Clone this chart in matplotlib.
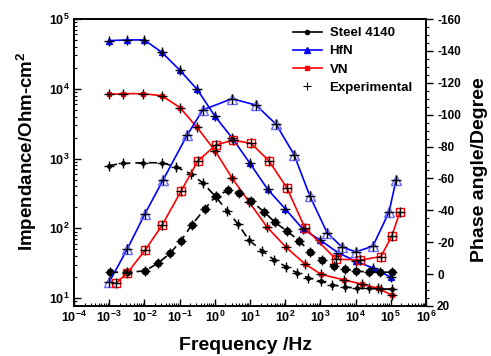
import numpy as np
import matplotlib
matplotlib.use("Agg")
import matplotlib.pyplot as plt
from matplotlib.lines import Line2D
from matplotlib.ticker import FixedLocator, MultipleLocator, LogLocator, FuncFormatter, NullFormatter

plt.rcParams['font.family'] = ['Liberation Sans', 'DejaVu Sans']
plt.rcParams['font.weight'] = 'bold'
plt.rcParams['mathtext.fontset'] = 'custom'
plt.rcParams['mathtext.rm'] = 'Liberation Sans:bold'
plt.rcParams['mathtext.bf'] = 'Liberation Sans:bold'
plt.rcParams['axes.unicode_minus'] = False

# log10 of frequency (Hz) and data
# Steel 4140
steel_z_logf = [-3.01, -2.61, -2.04, -1.50, -1.10, -0.68, -0.34, 0.03, 0.35, 0.66, 0.97, 1.34,
                1.68, 2.02, 2.34, 2.65, 3.02, 3.33, 3.70, 4.04, 4.38, 4.72, 5.03]
steel_z_log = [2.90, 2.93, 2.94, 2.94, 2.88, 2.78, 2.65, 2.45, 2.25, 2.06, 1.83, 1.68,
               1.55, 1.45, 1.36, 1.29, 1.24, 1.19, 1.16, 1.14, 1.14, 1.13, 1.13]
steel_ph_logf = [-2.98, -2.49, -1.98, -1.61, -1.27, -0.96, -0.65, -0.28, 0.03, 0.38, 0.69, 1.03,
                 1.40, 1.71, 2.05, 2.39, 2.70, 3.04, 3.38, 3.70, 4.01, 4.38, 4.69, 5.03]
steel_ph = [-1.2, -1.2, -2, -7, -13, -21, -31, -41, -49, -52.5, -51, -46,
            -39, -32.5, -27, -21, -14, -9, -5, -3, -2, -1.2, -1.2, -1.2]

# HfN
hfn_z_logf = [-3, -2.5, -2, -1.5, -1, -0.5, 0, 0.5, 1, 1.5, 2, 2.5, 3, 3.5, 4, 4.5, 5]
hfn_z_log = [4.69, 4.70, 4.70, 4.52, 4.27, 3.99, 3.61, 3.29, 2.93, 2.56, 2.28, 1.99,
             1.83, 1.65, 1.53, 1.43, 1.30]
hfn_ph_logf = [-3.0, -2.49, -1.98, -1.47, -0.79, -0.34, 0.49, 1.17, 1.74, 2.25, 2.70, 3.19,
               3.61, 4.01, 4.49, 4.95, 5.15]
hfn_ph = [5, -15.6, -38, -59, -87, -103, -110, -106, -94, -75, -49, -26,
          -17, -14, -17.5, -39, -59]

# VN
vn_z_logf = [-3.01, -2.61, -2.04, -1.5, -0.99, -0.51, 0.01, 0.49, 0.97, 1.48, 2.02, 2.56,
             3.02, 3.67, 4.18, 4.64, 5.03]
vn_z_log = [3.92, 3.93, 3.93, 3.90, 3.73, 3.45, 3.11, 2.72, 2.38, 2.02, 1.73, 1.49,
            1.34, 1.26, 1.20, 1.14, 1.04]
vn_ph_logf = [-2.8, -2.49, -1.98, -1.5, -0.96, -0.48, 0.03, 0.52, 1.03, 1.54, 2.05, 2.56,
              3.44, 4.13, 4.72, 5.03, 5.26]
vn_ph = [5.6, -0.6, -15, -30.6, -52, -71, -81, -84, -82, -71, -54, -29,
         -9.4, -8.8, -11, -24, -39]

BLUE = '#0000ff'
RED = '#ff0000'
LBLUE = '#6a6aff'

fig = plt.figure(figsize=(4.91, 3.56), dpi=100)
ax = fig.add_axes([74/491, 1-306/356, 352/491, 287/356])
ax2 = ax.twinx()

def f(lf):
    return 10 ** np.array(lf)

# impedance (left axis)
ax.plot(f(steel_z_logf), f(steel_z_log), color='k', ls=(0, (5, 3)), lw=1.2,
        marker='o', ms=2.6, mfc='k', mec='k', zorder=3)
ax.plot(f(hfn_z_logf), f(hfn_z_log), color=BLUE, lw=1.2,
        marker='^', ms=4.5, mfc=BLUE, mec=BLUE, zorder=3)
ax.plot(f(vn_z_logf), f(vn_z_log), color=RED, lw=1.2,
        marker='s', ms=3.2, mfc=RED, mec=RED, zorder=3)

# phase (right axis)
ax2.plot(f(steel_ph_logf), steel_ph, color='k', ls=(0, (5, 3)), lw=1.2,
         marker='o', ms=4.6, mfc='k', mec='k', zorder=3)
ax2.plot(f(hfn_ph_logf), hfn_ph, color=BLUE, lw=1.2,
         marker='^', ms=7, mfc='none', mec=LBLUE, mew=1.0, zorder=3)
ax2.plot(f(vn_ph_logf), vn_ph, color=RED, lw=1.2,
         marker='s', ms=5.5, mfc='none', mec=RED, mew=1.0, zorder=3)

# experimental points
for lf, v in [(steel_z_logf, steel_z_log), (hfn_z_logf, hfn_z_log), (vn_z_logf, vn_z_log)]:
    ax.plot(f(lf), f(v), ls='none', marker='+', ms=6.5, mew=1.0, color='k', zorder=4)
for lf, v in [(steel_ph_logf, steel_ph), (hfn_ph_logf, hfn_ph), (vn_ph_logf, vn_ph)]:
    ax2.plot(f(lf), v, ls='none', marker='+', ms=6.5, mew=1.0, color='k', zorder=4)

ax.set_xscale('log')
ax.set_yscale('log')
ax.set_xlim(1e-4, 1e6)
ax.set_ylim(7.7, 1e5)
ax2.set_ylim(20, -160)

pow_fmt = FuncFormatter(lambda v, p: r'$\mathbf{10^{%d}}$' % round(np.log10(v)))
ax.xaxis.set_major_locator(LogLocator(base=10, numticks=20))
ax.xaxis.set_major_formatter(pow_fmt)
ax.xaxis.set_minor_locator(LogLocator(base=10, subs=np.arange(2, 10), numticks=20))
ax.xaxis.set_minor_formatter(NullFormatter())
ax.yaxis.set_major_locator(FixedLocator([1e1, 1e2, 1e3, 1e4, 1e5]))
ax.yaxis.set_major_formatter(pow_fmt)
ax.yaxis.set_minor_locator(LogLocator(base=10, subs=np.arange(2, 10), numticks=20))
ax.yaxis.set_minor_formatter(NullFormatter())

ax2.yaxis.set_major_locator(MultipleLocator(20))
ax2.yaxis.set_minor_locator(MultipleLocator(5))

ax.tick_params(axis='both', which='major', direction='in', length=5, width=1, labelsize=9, pad=3)
ax.tick_params(axis='both', which='minor', direction='in', length=2.5, width=0.8)
ax.tick_params(axis='x', top=False, which='both')
ax2.tick_params(axis='y', which='major', direction='out', length=5, width=1, labelsize=8.5, pad=3)
ax2.tick_params(axis='y', which='minor', direction='out', length=2.5, width=0.8)
for lab in ax2.get_yticklabels():
    lab.set_fontweight('bold')

for sp in ax.spines.values():
    sp.set_linewidth(1.2)
for sp in ax2.spines.values():
    sp.set_linewidth(1.2)

fig.text(27/491, 1-151/356, r'Impendance/Ohm-cm$^{\mathbf{2}}$', rotation=90,
         ha='center', va='center', fontsize=13.5, fontweight='bold')
fig.text(480/491, 1-170/356, 'Phase angle/Degree', rotation=90,
         ha='center', va='center', fontsize=14, fontweight='bold')
fig.text(246/491, 1-345/356, 'Frequency /Hz',
         ha='center', va='center', fontsize=14, fontweight='bold')

# legend
handles = [
    Line2D([], [], color='k', lw=1.2, marker='o', ms=3),
    Line2D([], [], color=BLUE, lw=1.2, marker='^', ms=4.5),
    Line2D([], [], color=RED, lw=1.2, marker='s', ms=3.5),
    Line2D([], [], color='k', ls='none', marker='+', ms=6, mew=0.8),
]
labels = ['Steel 4140', 'HfN', 'VN', 'Experimental']
leg = ax2.legend(handles, labels, loc='upper right', bbox_to_anchor=(0.985, 1.0),
                 frameon=False, fontsize=9.5, handlelength=2.2, handletextpad=0.6,
                 labelspacing=0.45, borderaxespad=0.2)
for t in leg.get_texts():
    t.set_fontweight('bold')

fig.savefig('out.png', dpi=100)
